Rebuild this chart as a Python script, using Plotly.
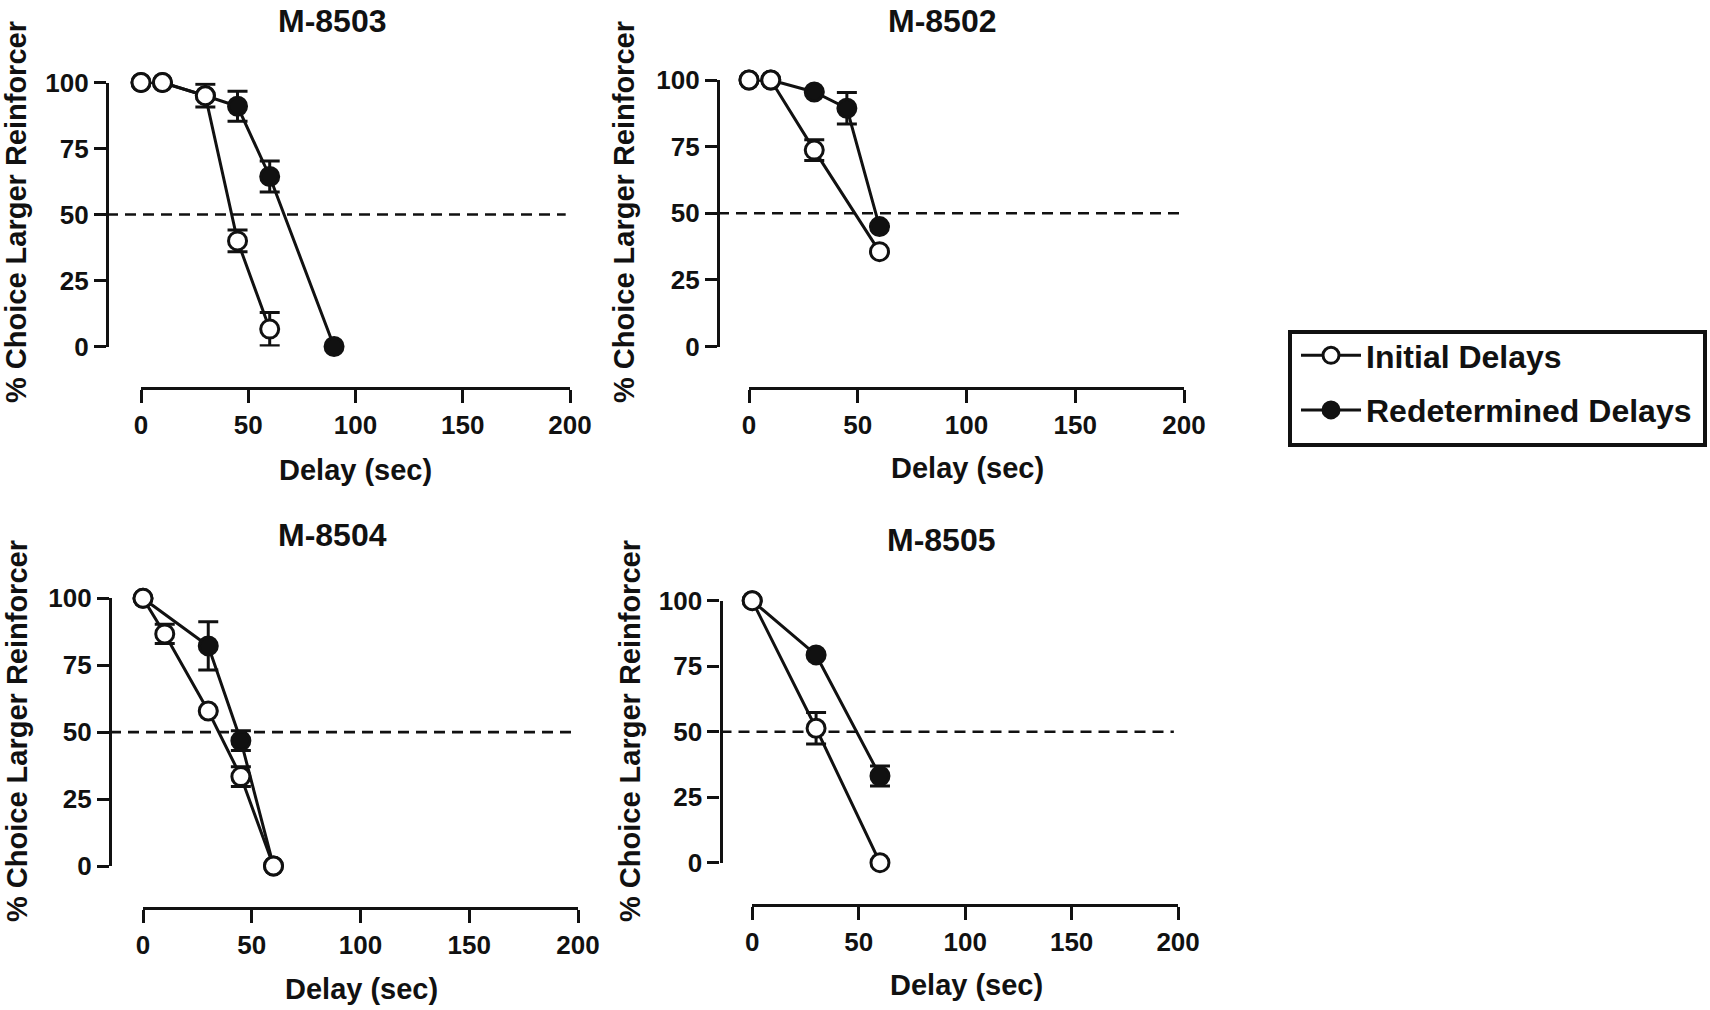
import plotly.graph_objects as go

# ---------------- data ----------------
panel_titles = ["M-8503", "M-8502", "M-8504", "M-8505"]
x_tick_vals = [0, 50, 100, 150, 200]
y_tick_vals = [0, 25, 50, 75, 100]
criterion = 50

m8503_init_x = [0, 10, 30, 45, 60]
m8503_init_y = [100, 100, 95, 40, 6.6]
m8503_init_err = [0, 0, 4.3, 4.1, 6.3]
m8503_red_x = [0, 10, 30, 45, 60, 90]
m8503_red_y = [100, 100, 95, 91, 64.4, 0]
m8503_red_err = [0, 0, 0, 5.7, 5.9, 0]

m8502_init_x = [0, 10, 30, 60]
m8502_init_y = [100, 100, 73.7, 35.6]
m8502_init_err = [0, 0, 3.9, 0]
m8502_red_x = [0, 10, 30, 45, 60]
m8502_red_y = [100, 100, 95.5, 89.4, 45]
m8502_red_err = [0, 0, 0, 5.9, 0]

m8504_init_x = [0, 10, 30, 45, 60]
m8504_init_y = [100, 86.7, 57.9, 33.4, 0]
m8504_init_err = [0, 3.6, 0, 3.7, 0]
m8504_red_x = [0, 30, 45, 60]
m8504_red_y = [100, 82.2, 46.8, 0]
m8504_red_err = [0, 9, 3.7, 0]

m8505_init_x = [0, 30, 60]
m8505_init_y = [100, 51.3, 0]
m8505_init_err = [0, 6, 0]
m8505_red_x = [0, 30, 60]
m8505_red_y = [100, 79.3, 33.1]
m8505_red_err = [0, 0, 3.8]

series_names = ["Initial Delays", "Redetermined Delays"]

panels_data = [
    (m8503_init_x, m8503_init_y, m8503_init_err, m8503_red_x, m8503_red_y, m8503_red_err),
    (m8502_init_x, m8502_init_y, m8502_init_err, m8502_red_x, m8502_red_y, m8502_red_err),
    (m8504_init_x, m8504_init_y, m8504_init_err, m8504_red_x, m8504_red_y, m8504_red_err),
    (m8505_init_x, m8505_init_y, m8505_init_err, m8505_red_x, m8505_red_y, m8505_red_err),
]

# ---------------- layout geometry (pixels) ----------------
W, H = 1710, 1010
FONT = "Arial, 'Liberation Sans', Helvetica, sans-serif"
INK = "#111111"

# x-domain px (x=0, x=200), y-domain px (y=100 top, y=0 bottom),
# x-spine y px, y-spine x px, title centre, x-title centre, y-title centre
geom = [
    dict(xd=(141.0, 570.0), yd=(82.5, 346.5), xs=388.0, ys=107.0,
         title=(332, 21), xt=(355, 470), yt=(16, 212)),
    dict(xd=(749.0, 1184.0), yd=(80.0, 346.5), xs=388.0, ys=718.0,
         title=(942, 21), xt=(968, 468), yt=(624, 212)),
    dict(xd=(143.0, 578.0), yd=(598.3, 866.0), xs=908.0, ys=110.0,
         title=(332, 535), xt=(361, 989), yt=(17, 731)),
    dict(xd=(752.2, 1178.1), yd=(600.7, 862.7), xs=905.0, ys=720.5,
         title=(941, 540), xt=(966, 985), yt=(630, 731)),
]

LEGEND_BOX = (1290, 332, 1705, 445)   # left, top, right, bottom (px)


def fx(p):
    return p / W


def fy(p):
    return 1 - p / H


fig = go.Figure()
annotations = []
shapes = []

for i, (g, d, title) in enumerate(zip(geom, panels_data, panel_titles)):
    n = "" if i == 0 else str(i + 1)
    xa, ya = "x" + n, "y" + n
    ix, iy, ie, rx, ry, re = d
    show = i == 0
    # redetermined first (underneath), initial on top
    fig.add_trace(go.Scatter(
        x=rx, y=ry, xaxis=xa, yaxis=ya, mode="lines+markers",
        name=series_names[1], legendgroup="b", legendrank=2, showlegend=show,
        cliponaxis=False,
        line=dict(color=INK, width=3),
        marker=dict(symbol="circle", size=18, color=INK, line=dict(color=INK, width=3)),
        error_y=dict(type="data", array=re, visible=True, color=INK, thickness=3, width=10),
    ))
    fig.add_trace(go.Scatter(
        x=ix, y=iy, xaxis=xa, yaxis=ya, mode="lines+markers",
        name=series_names[0], legendgroup="a", legendrank=1, showlegend=show,
        cliponaxis=False,
        line=dict(color=INK, width=3),
        marker=dict(symbol="circle", size=18, color="white", line=dict(color=INK, width=3)),
        error_y=dict(type="data", array=ie, visible=True, color=INK, thickness=3, width=10),
    ))

    axis_common = dict(
        showgrid=False, zeroline=False, showline=True, linecolor=INK, linewidth=3.2,
        ticks="outside", tickwidth=3.2, tickcolor=INK,
        tickfont=dict(family=FONT, size=26, color=INK, weight="bold"),
        anchor="free", fixedrange=True, automargin=False,
    )
    fig.update_layout(**{
        "xaxis" + n: dict(axis_common, domain=[fx(g["xd"][0]), fx(g["xd"][1])], ticklen=13,
                          range=[0, 200], tickvals=x_tick_vals, position=fy(g["xs"])),
        "yaxis" + n: dict(axis_common, domain=[fy(g["yd"][1]), fy(g["yd"][0])], ticklen=12,
                          range=[0, 100], tickvals=y_tick_vals, position=fx(g["ys"])),
    })

    # 50% criterion dashed line, from the y spine to near x=200
    x0 = (g["ys"] - g["xd"][0]) / (g["xd"][1] - g["xd"][0])
    shapes.append(dict(type="line", xref=xa + " domain", yref=ya,
                       x0=x0, x1=0.99, y0=criterion, y1=criterion,
                       line=dict(color=INK, width=2.6, dash="11px,7px"), layer="below"))

    annotations.append(dict(text=title, x=fx(g["title"][0]), y=fy(g["title"][1]),
                            xref="paper", yref="paper", showarrow=False,
                            xanchor="center", yanchor="middle",
                            font=dict(family=FONT, size=32, color=INK, weight="bold")))
    annotations.append(dict(text="Delay (sec)", x=fx(g["xt"][0]), y=fy(g["xt"][1]),
                            xref="paper", yref="paper", showarrow=False,
                            xanchor="center", yanchor="middle",
                            font=dict(family=FONT, size=29, color=INK, weight="bold")))
    annotations.append(dict(text="% Choice Larger Reinforcer", x=fx(g["yt"][0]), y=fy(g["yt"][1]),
                            xref="paper", yref="paper", showarrow=False, textangle=-90,
                            xanchor="center", yanchor="middle",
                            font=dict(family=FONT, size=29, color=INK, weight="bold")))

# legend frame
shapes.append(dict(type="rect", xref="paper", yref="paper",
                   x0=fx(LEGEND_BOX[0]), x1=fx(LEGEND_BOX[2]),
                   y0=fy(LEGEND_BOX[3]), y1=fy(LEGEND_BOX[1]),
                   line=dict(color=INK, width=4), fillcolor="rgba(0,0,0,0)"))

fig.update_layout(
    width=W, height=H,
    margin=dict(l=0, r=0, t=0, b=0, pad=0, autoexpand=False),
    paper_bgcolor="white", plot_bgcolor="white",
    annotations=annotations, shapes=shapes,
    showlegend=True,
    legend=dict(
        x=fx(1296), y=fy(328), xanchor="left", yanchor="top",
        borderwidth=0, bgcolor="rgba(0,0,0,0)",
        font=dict(family=FONT, size=32, color=INK, weight="bold"),
        traceorder="grouped", tracegroupgap=10, itemwidth=60,
    ),
)

fig.write_html(
    "out.html",
    config={"displayModeBar": False},
    post_script="document.body.style.margin='0';document.body.style.padding='0';",
)
